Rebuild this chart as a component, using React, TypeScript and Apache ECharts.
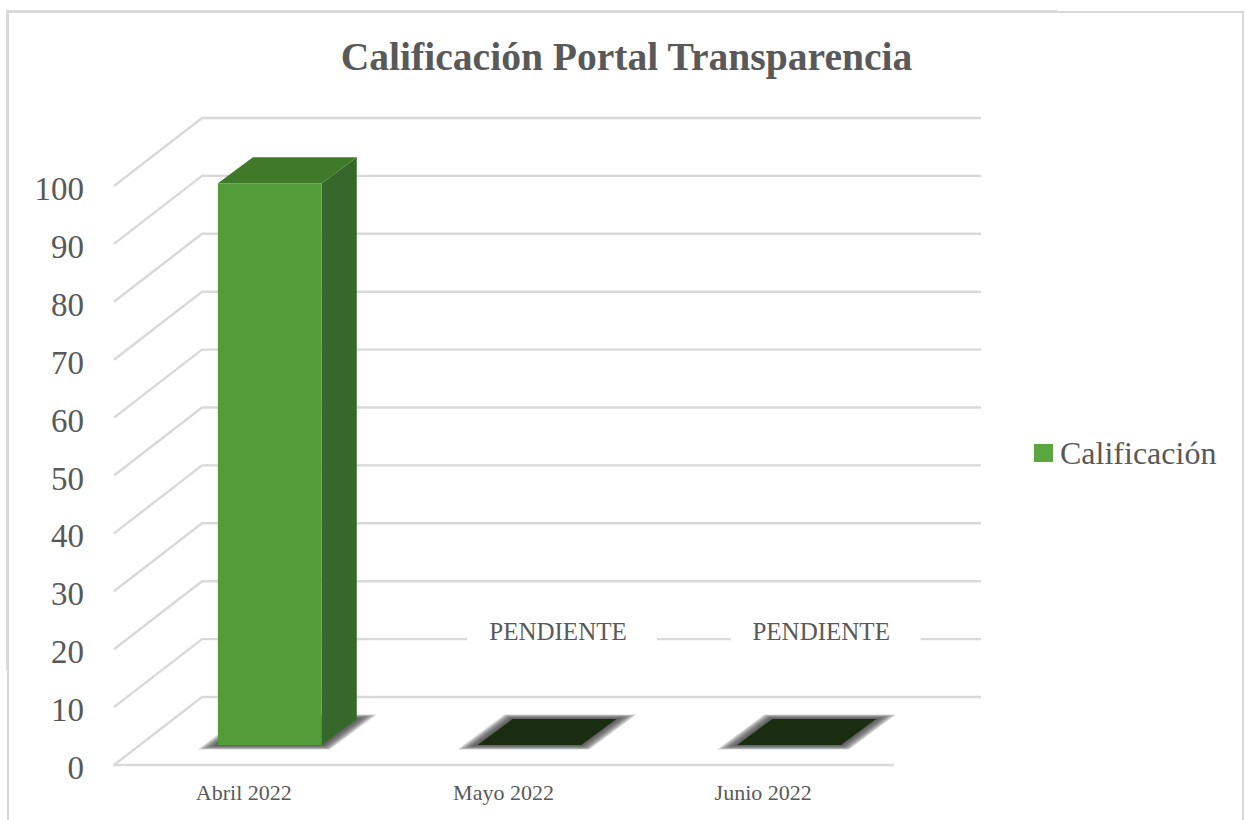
import React, { useEffect, useRef } from "react";
import * as echarts from "echarts";

const titleText = "Calificación Portal Transparencia";
const seriesName = "Calificación";
const categories = ["Abril 2022", "Mayo 2022", "Junio 2022"];
const scores = [97, 0, 0];
const pendingLabels = ["", "PENDIENTE", "PENDIENTE"];
const pendingLevel = 20;
const yTicks = [0, 10, 20, 30, 40, 50, 60, 70, 80, 90, 100];

const FONT = '"Liberation Serif", serif';
const TEXT = "#595959";
const LINE = "#D9D9D9";
const FACE = "#549B3A";
const TOP = "#3F7A2A";
const SIDE = "#36682A";
const FLAT = "#1B2D10";
const WALL_DX = 88;
const WALL_DY = 68;
const FRONT_DX = 26;
const FRONT_DY = 20;
const BAR_DX = 35;
const BAR_DY = 26;
const SHADOW_STEPS = [1, 0.88, 0.76, 0.64, 0.52, 0.4, 0.28, 0.16];

export default function App() {
  const ref = useRef<HTMLDivElement>(null);
  useEffect(() => {
    const chart = echarts.init(ref.current!, null, { renderer: "svg" });

    const renderWall = (params: any, api: any) => {
      const cs = params.coordSys;
      const y = api.coord([0, api.value(1)])[1];
      return {
        type: "polyline",
        silent: true,
        shape: {
          points: [
            [cs.x, y],
            [cs.x + WALL_DX, y - WALL_DY],
            [cs.x + cs.width + WALL_DX, y - WALL_DY],
          ],
        },
        style: { fill: "none", stroke: LINE, lineWidth: 2.4 },
      };
    };

    const renderBar = (_params: any, api: any) => {
      const [cx, y0] = api.coord([api.value(0), 0]);
      const yv = api.coord([api.value(0), api.value(1)])[1];
      const w = api.size([1, 0])[0] * 0.4;
      const x0 = cx - w / 2 + FRONT_DX;
      const x1 = x0 + w;
      const yb = y0 - FRONT_DY;
      const yt = yv - FRONT_DY;
      const slant = BAR_DX / BAR_DY;
      const shadowLayers = SHADOW_STEPS.map((t) => {
        const h = 14 * t;
        const v = 4.5 * t;
        return {
          type: "polygon",
          shape: {
            points: [
              [x0 - h - v * slant, yb + v],
              [x1 + h - v * slant, yb + v],
              [x1 + BAR_DX + h + v * slant, yb - BAR_DY - v],
              [x0 + BAR_DX - h + v * slant, yb - BAR_DY - v],
            ],
          },
          style: { fill: "rgba(70,70,70,0.2)" },
        };
      });
      const poly = (points: number[][], fill: string) => ({
        type: "polygon",
        shape: { points },
        style: { fill },
      });
      const topPoints = [
        [x0, yt],
        [x1, yt],
        [x1 + BAR_DX, yt - BAR_DY],
        [x0 + BAR_DX, yt - BAR_DY],
      ];
      const children: any[] = [...shadowLayers];
      if (api.value(1) === 0) {
        children.push(poly(topPoints, FLAT));
      } else {
        children.push(
          poly(
            [
              [x1, yb],
              [x1 + BAR_DX, yb - BAR_DY],
              [x1 + BAR_DX, yt - BAR_DY],
              [x1, yt],
            ],
            SIDE,
          ),
          poly(topPoints, TOP),
          {
            type: "rect",
            shape: { x: x0, y: yt, width: w, height: yb - yt },
            style: { fill: FACE },
          },
        );
      }
      return { type: "group", children };
    };

    const renderPending = (_params: any, api: any) => {
      const i = api.value(0);
      const [cx, y] = api.coord([i, pendingLevel]);
      return {
        type: "group",
        children: [
          {
            type: "rect",
            shape: { x: cx + 58.5 + (i - 1) * 4 - 95, y: y - 26, width: 190, height: 24 },
            style: { fill: "#fff" },
          },
          {
            type: "text",
            x: cx + 54.5 + (i - 1) * 3.5,
            y: y - 18,
            style: {
              text: pendingLabels[i],
              fill: TEXT,
              font: `25px ${FONT}`,
              align: "center",
              verticalAlign: "middle",
            },
          },
        ],
      };
    };

    chart.setOption({
      animation: false,
      backgroundColor: "#fff",
      title: {
        text: titleText,
        left: 621.5,
        top: 32,
        textAlign: "center",
        textStyle: { fontFamily: FONT, fontSize: 39.6, fontWeight: "bold", color: TEXT },
      },
      legend: {
        left: 1029,
        top: 432,
        icon: "rect",
        itemWidth: 19,
        itemHeight: 18,
        itemGap: 0,
        data: [seriesName],
        textStyle: { fontFamily: FONT, fontSize: 32, color: TEXT, padding: [0, 0, 0, 2] },
      },
      grid: { left: 114, top: 186, width: 779, height: 579 },
      xAxis: {
        type: "category",
        data: categories,
        axisLine: { show: true, lineStyle: { color: LINE, width: 2.4 } },
        axisTick: { show: false },
        axisLabel: { fontFamily: FONT, fontSize: 22, color: TEXT, margin: 16 },
        splitLine: { show: false },
      },
      yAxis: {
        type: "value",
        min: 0,
        max: 100,
        interval: 10,
        axisLine: { show: false },
        axisTick: { show: false },
        axisLabel: {
          fontFamily: FONT,
          fontSize: 33,
          color: TEXT,
          margin: 30,
          verticalAlign: "top",
          lineHeight: 6,
        },
        splitLine: { show: false },
      },
      graphic: [
        {
          type: "polyline",
          silent: true,
          shape: {
            points: [
              [8, 820],
              [8, 12],
              [1243, 12],
              [1243, 820],
            ],
          },
          style: { fill: "none", stroke: LINE, lineWidth: 2 },
        },
        {
          type: "polyline",
          silent: true,
          shape: {
            points: [
              [7, 670],
              [7, 11],
              [1057, 11],
            ],
          },
          style: { fill: "none", stroke: LINE, lineWidth: 2 },
        },
      ],
      series: [
        {
          type: "custom",
          name: "wall",
          z: 1,
          silent: true,
          renderItem: renderWall,
          encode: { x: 0, y: 1 },
          data: yTicks.map((t) => [0, t]),
        },
        {
          type: "custom",
          name: "pending",
          z: 2,
          silent: true,
          renderItem: renderPending,
          encode: { x: 0, y: 1 },
          data: categories
            .map((_, i) => [i, pendingLevel])
            .filter((d) => pendingLabels[d[0]] !== ""),
        },
        {
          type: "custom",
          name: seriesName,
          z: 3,
          silent: true,
          renderItem: renderBar,
          itemStyle: { color: "#5AA63F" },
          encode: { x: 0, y: 1 },
          data: scores.map((v, i) => [i, v]),
        },
      ],
    });
    return () => chart.dispose();
  }, []);
  return <div ref={ref} style={{ position: "fixed", left: 0, top: 0, width: 1246, height: 820 }} />;
}
